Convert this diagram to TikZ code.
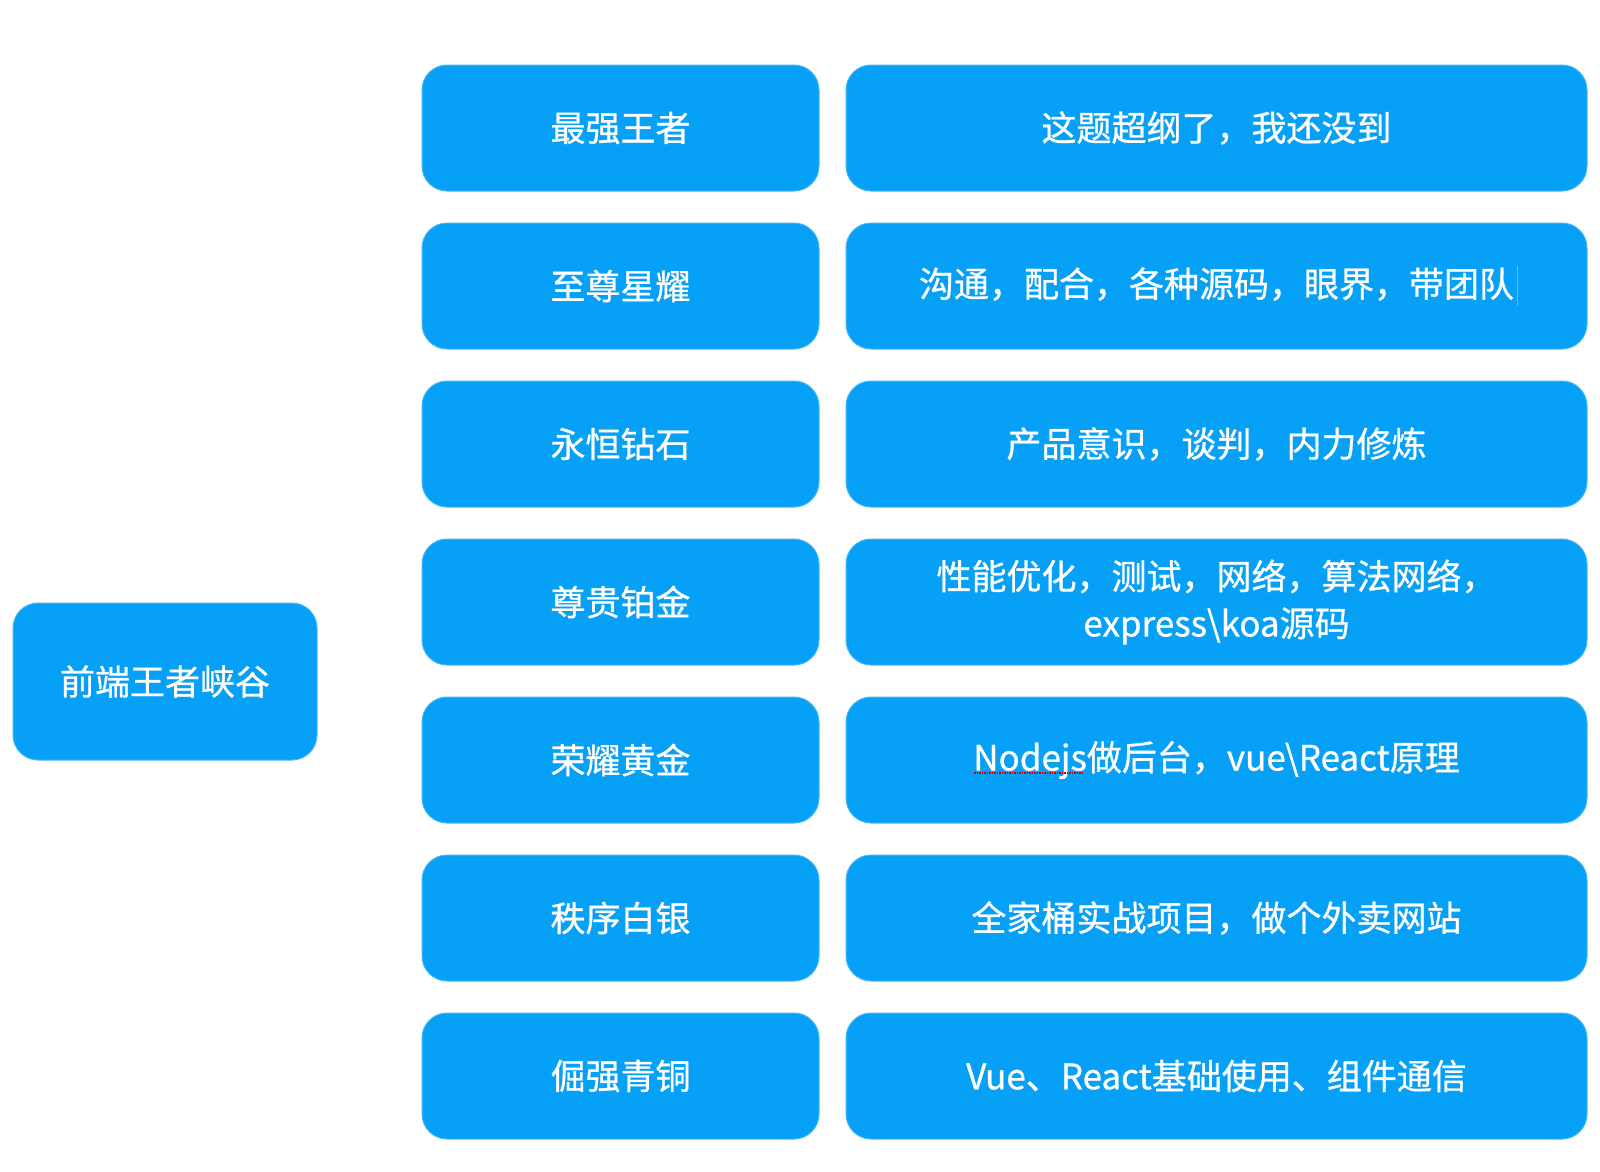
\documentclass[tikz,border=0pt]{standalone}
\usepackage{fontspec}
\setmainfont[FakeBold=0.8]{Noto Sans CJK SC}
\definecolor{tileblue}{RGB}{6,160,246}
\tikzset{
  tile/.style={fill=tileblue, draw=tileblue!75!white, line width=1pt,
    rounded corners=25pt, text=white, align=center,
    font=\fontsize{35}{47}\selectfont, inner sep=0pt},
  rank/.style={tile, minimum width=397pt, minimum height=126pt},
  note/.style={tile, minimum width=741pt, minimum height=126pt}
}
\newcommand{\caretmark}{\rlap{\hspace{3pt}\textcolor{gray!70}{\rule[-9pt]{1pt}{40pt}}}}
\begin{document}
\begin{tikzpicture}[x=1pt,y=-1pt]
        \useasboundingbox (0,0) rectangle (1600,1171);
        % root box
        \node[tile, minimum width=304pt, minimum height=157pt] (root) at (165,681.5) {前端王者峡谷};
        % one row per rank
        \foreach \nm/\rk/\txt [count=\i from 0] in {
            king/最强王者/{这题超纲了，我还没到},
            star/至尊星耀/{沟通，配合，各种源码，眼界，带团队\caretmark},
            diamond/永恒钻石/{产品意识，谈判，内力修炼},
            platinum/尊贵铂金/{性能优化，测试，网络，算法网络，\\express\textbackslash koa源码},
            gold/荣耀黄金/{Nodejs做后台，vue\textbackslash React原理},
            silver/秩序白银/{全家桶实战项目，做个外卖网站},
            bronze/倔强青铜/{Vue、React基础使用、组件通信}} {
          \node[rank] (\nm) at (620.5,128+158*\i) {\rk};
          \node[note] (\nm-note) at (1216.5,128+158*\i) {\txt};
        }
        % spell-check mark under Nodejs
        \draw[red!80!black, densely dotted, line width=1.5pt] (974,773) -- (1083,773);
\end{tikzpicture}
\end{document}
